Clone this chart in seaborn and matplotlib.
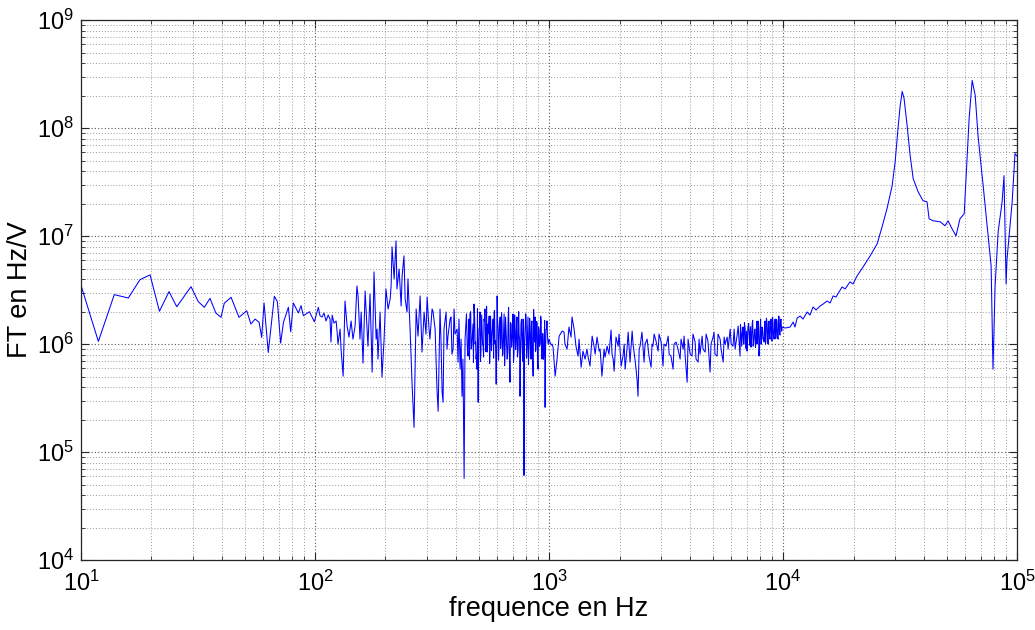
import numpy as np
import pandas as pd
import matplotlib
matplotlib.use("Agg")
import matplotlib.pyplot as plt
import seaborn as sns
from matplotlib.ticker import LogLocator

# ---- data (log10 of frequency in Hz, log10 of FT in Hz/V) ----
log_freq_low = [1.000, 1.074, 1.142, 1.202, 1.252, 1.295, 1.335, 1.376, 1.409, 1.470,
                1.501, 1.527, 1.551, 1.576, 1.598, 1.612, 1.641, 1.675, 1.708, 1.726,
                1.744, 1.761, 1.772, 1.782, 1.800, 1.826, 1.839, 1.853, 1.865, 1.886,
                1.896, 1.907, 1.929, 1.940, 1.950, 1.976, 1.997, 2.014, 2.021]
log_ft_low = [6.543, 6.025, 6.458, 6.427, 6.597, 6.641, 6.304, 6.486, 6.346, 6.532,
              6.393, 6.341, 6.424, 6.288, 6.248, 6.378, 6.434, 6.248, 6.309, 6.186,
              6.232, 6.201, 6.062, 6.381, 5.923, 6.443, 6.393, 6.009, 6.201, 6.341,
              6.114, 6.381, 6.288, 6.356, 6.263, 6.300, 6.207, 6.341, 6.263]

log_freq_mid1 = [2.030, 2.038, 2.047, 2.056, 2.064, 2.068, 2.073, 2.081, 2.090, 2.094,
                 2.098, 2.107, 2.111, 2.120, 2.128, 2.137, 2.145, 2.154, 2.162, 2.171,
                 2.179, 2.184, 2.192, 2.197, 2.205, 2.214, 2.222, 2.226, 2.235, 2.244,
                 2.252, 2.261, 2.265, 2.269, 2.278, 2.286, 2.295, 2.303, 2.312, 2.321,
                 2.325, 2.329, 2.338, 2.346, 2.350, 2.359, 2.368, 2.372, 2.380, 2.385,
                 2.393, 2.397, 2.406, 2.415, 2.423, 2.432, 2.440, 2.449, 2.457, 2.466,
                 2.474, 2.479, 2.487, 2.491, 2.500, 2.504, 2.513, 2.521, 2.526]
log_ft_mid1 = [6.251, 6.288, 6.214, 6.269, 6.232, 6.019, 6.269, 6.195, 6.214, 6.121,
               6.000, 6.139, 5.954, 5.703, 6.399, 6.167, 6.065, 6.214, 6.046, 6.167,
               6.539, 6.436, 6.046, 6.297, 5.824, 6.492, 6.139, 5.981, 6.464, 5.740,
               6.669, 6.046, 6.139, 5.861, 6.297, 5.694, 6.046, 6.511, 6.325, 6.418,
               6.539, 6.901, 6.604, 6.956, 6.511, 6.696, 6.353, 6.631, 6.817, 6.418,
               6.297, 6.604, 6.139, 5.610, 5.229, 6.325, 6.074, 6.446, 5.926, 6.297,
               6.093, 6.436, 6.139, 6.046, 6.325, 6.306, 6.139, 5.582, 5.378]

log_freq_mid2 = [2.534, 2.538, 2.543, 2.547, 2.551, 2.560, 2.564, 2.568, 2.577, 2.581,
                 2.585, 2.590, 2.594, 2.598, 2.607, 2.611, 2.615, 2.620, 2.624, 2.628,
                 2.632, 2.637, 2.641, 2.645, 2.650, 2.654, 2.658, 2.662, 2.667, 2.671,
                 2.675, 2.679, 2.684, 2.688, 2.692, 2.697, 2.701, 2.705, 2.709, 2.714,
                 2.718, 2.722, 2.726, 2.731, 2.735, 2.739, 2.744, 2.748, 2.752, 2.756,
                 2.761, 2.765, 2.769, 2.774, 2.778, 2.782, 2.786, 2.791, 2.795, 2.799,
                 2.803, 2.808, 2.812, 2.816, 2.821, 2.825, 2.829, 2.833, 2.838, 2.842,
                 2.846, 2.850, 2.855, 2.859, 2.863, 2.868, 2.872, 2.876, 2.880, 2.885,
                 2.889, 2.893, 2.897, 2.902, 2.906, 2.910, 2.915, 2.919, 2.923, 2.927,
                 2.932, 2.936, 2.940, 2.944, 2.949, 2.953, 2.957, 2.962, 2.966, 2.970,
                 2.974, 2.979, 2.983, 2.987, 2.991, 2.996]
log_ft_mid2 = [6.325, 6.046, 5.554, 5.461, 6.139, 6.297, 5.954, 6.074, 6.232, 6.251,
               5.907, 5.954, 6.325, 6.093, 6.139, 5.833, 6.232, 5.768, 6.046, 5.517,
               5.861, 4.756, 6.046, 6.204, 6.000, 5.889, 6.232, 6.279, 5.954, 6.046,
               6.186, 6.371, 6.000, 5.861, 5.768, 5.461, 6.139, 6.297, 5.954, 6.139,
               5.981, 6.232, 6.325, 6.000, 5.926, 6.186, 6.260, 5.954, 6.093, 6.074,
               6.232, 6.297, 6.000, 5.629, 6.446, 6.139, 6.000, 6.251, 6.046, 6.186,
               5.907, 6.279, 5.954, 6.139, 5.861, 6.232, 6.000, 5.647, 6.186, 6.046,
               6.279, 5.907, 6.139, 6.000, 6.251, 5.954, 6.093, 5.517, 6.186, 6.000,
               6.232, 4.784, 6.093, 6.232, 5.954, 6.251, 6.000, 6.158, 5.861, 6.214,
               5.703, 6.139, 6.251, 5.954, 6.186, 5.768, 6.139, 6.000, 6.232, 5.861,
               6.093, 5.954, 5.415, 6.139, 6.214, 6.000]

# extra strokes of the densest band between ~450 Hz and 1 kHz
log_freq_mid2b = [2.647, 2.652, 2.656, 2.660, 2.665, 2.669, 2.673, 2.677, 2.682, 2.686,
                  2.690, 2.694, 2.699, 2.703, 2.707, 2.712, 2.716, 2.720, 2.724, 2.729,
                  2.733, 2.737, 2.741, 2.746, 2.750, 2.754, 2.759, 2.763, 2.767, 2.771,
                  2.776, 2.780, 2.784, 2.788, 2.793, 2.797, 2.801, 2.806, 2.810, 2.814,
                  2.818, 2.823, 2.827, 2.831, 2.835, 2.840, 2.844, 2.848, 2.853, 2.857,
                  2.861, 2.865, 2.870, 2.874, 2.878, 2.882, 2.887, 2.891, 2.895, 2.900,
                  2.904, 2.908, 2.912, 2.917, 2.921, 2.925, 2.929, 2.934, 2.938, 2.942,
                  2.947, 2.951, 2.955, 2.959, 2.964, 2.968, 2.972, 2.976, 2.981, 2.985,
                  2.989, 2.994]
log_ft_mid2b = [6.28, 5.92, 6.18, 5.86, 6.30, 5.97, 6.12, 5.83, 6.24, 6.02,
                5.90, 6.33, 5.95, 6.16, 5.84, 6.27, 6.00, 5.88, 6.21, 5.93,
                6.35, 5.98, 6.10, 5.82, 6.26, 5.94, 6.19, 5.87, 6.31, 6.03,
                5.91, 6.22, 5.85, 6.17, 5.96, 6.29, 5.89, 6.13, 5.80, 6.25,
                6.01, 5.92, 6.34, 5.86, 6.20, 5.97, 6.11, 5.83, 6.27, 5.95,
                6.18, 5.88, 6.30, 6.04, 5.90, 6.23, 5.84, 6.15, 5.99, 6.28,
                5.87, 6.12, 5.81, 6.24, 5.96, 6.19, 5.89, 6.32, 6.02, 5.93,
                6.21, 5.85, 6.16, 5.98, 6.26, 5.90, 6.10, 5.86, 6.22, 5.95,
                6.14, 6.05]

log_freq_mid3 = [3.000, 3.004, 3.009, 3.013, 3.017, 3.026, 3.034, 3.043, 3.056, 3.064,
                 3.068, 3.077, 3.085, 3.094, 3.098, 3.107, 3.115, 3.124, 3.128, 3.137,
                 3.145, 3.154, 3.162, 3.167, 3.175, 3.184, 3.192, 3.197, 3.205, 3.214,
                 3.218, 3.226, 3.235, 3.239, 3.248, 3.256, 3.265, 3.269, 3.274, 3.278,
                 3.286, 3.295, 3.299, 3.308, 3.316, 3.321, 3.325, 3.333, 3.338, 3.346,
                 3.355, 3.359, 3.368, 3.376, 3.380, 3.385, 3.389, 3.397, 3.406, 3.410,
                 3.419, 3.427, 3.436, 3.440, 3.444, 3.449, 3.457, 3.466, 3.470, 3.479,
                 3.483, 3.487, 3.491, 3.500, 3.509, 3.513, 3.521, 3.530, 3.534, 3.543,
                 3.551]
log_ft_mid3 = [6.046, 6.019, 5.991, 6.000, 5.972, 5.703, 5.861, 6.074, 6.121, 6.111,
               6.000, 5.954, 6.158, 6.065, 6.251, 6.139, 5.981, 5.889, 6.046, 5.786,
               5.935, 5.861, 5.954, 5.879, 5.796, 6.074, 5.981, 5.907, 6.065, 5.935,
               5.954, 5.703, 5.954, 5.879, 5.981, 5.907, 6.130, 5.907, 5.861, 5.749,
               6.065, 5.981, 6.093, 5.796, 5.889, 6.000, 5.768, 5.954, 6.111, 5.833,
               6.121, 6.000, 5.842, 5.675, 5.517, 5.954, 5.981, 6.111, 5.833, 6.000,
               6.046, 5.889, 5.786, 6.000, 5.981, 6.093, 6.028, 5.935, 6.093, 6.019,
               5.907, 5.796, 6.000, 5.981, 6.074, 5.907, 5.889, 5.768, 6.000, 6.019,
               5.954]

log_freq_mid4 = [3.560, 3.564, 3.573, 3.577, 3.581, 3.590, 3.594, 3.603, 3.611, 3.615,
                 3.624, 3.628, 3.637, 3.641, 3.645, 3.654, 3.658, 3.667, 3.671, 3.679,
                 3.684, 3.688, 3.692, 3.701, 3.705, 3.709, 3.718, 3.722, 3.731, 3.735,
                 3.744, 3.748, 3.752, 3.761, 3.765, 3.774, 3.778, 3.786, 3.791, 3.795,
                 3.803, 3.808, 3.816, 3.821, 3.829, 3.833, 3.838, 3.846, 3.850, 3.859,
                 3.863, 3.868, 3.872, 3.880, 3.885, 3.889, 3.893, 3.897, 3.902, 3.906,
                 3.910, 3.915, 3.919, 3.923, 3.927, 3.932, 3.936, 3.940, 3.944, 3.949,
                 3.953, 3.957, 3.962, 3.966, 3.970, 3.974, 3.979, 3.983, 3.987, 3.991,
                 3.996]
log_ft_mid4 = [5.861, 6.046, 5.954, 6.074, 5.907, 5.647, 6.046, 5.907, 5.889, 6.093,
               6.019, 5.861, 5.833, 6.046, 5.907, 6.074, 5.954, 5.926, 6.093, 6.028,
               5.861, 5.740, 6.000, 6.065, 6.111, 5.907, 5.889, 6.093, 6.046, 5.954,
               5.833, 6.065, 6.000, 6.065, 5.954, 6.139, 6.000, 5.981, 6.139, 5.954,
               6.074, 6.167, 5.889, 6.093, 6.158, 6.000, 6.139, 5.935, 6.158, 6.111,
               5.972, 6.186, 5.981, 6.139, 6.046, 6.000, 6.214, 5.889, 6.139, 6.000,
               6.158, 6.046, 6.019, 6.214, 6.046, 6.186, 6.000, 6.214, 6.046, 6.232,
               6.028, 6.195, 6.046, 6.232, 6.065, 6.214, 6.046, 6.251, 6.084, 6.232,
               6.158]

# extra strokes of the dense band just below 10 kHz
log_freq_mid4b = [3.818, 3.823, 3.827, 3.831, 3.835, 3.840, 3.844, 3.848, 3.853, 3.857,
                  3.861, 3.865, 3.870, 3.874, 3.878, 3.882, 3.887, 3.891, 3.895, 3.900,
                  3.904, 3.908, 3.912, 3.917, 3.921, 3.925, 3.929, 3.934, 3.938, 3.942,
                  3.947, 3.951, 3.955, 3.959, 3.964, 3.968, 3.972, 3.976, 3.981, 3.985,
                  3.989, 3.994]
log_ft_mid4b = [6.18, 5.98, 6.14, 6.00, 6.20, 5.96, 6.12, 6.03, 6.19, 5.99,
                6.16, 6.04, 6.22, 6.00, 6.13, 5.97, 6.21, 6.05, 6.17, 6.01,
                6.23, 6.02, 6.15, 6.06, 6.20, 6.00, 6.24, 6.04, 6.18, 6.08,
                6.22, 6.03, 6.25, 6.07, 6.19, 6.05, 6.23, 6.06, 6.26, 6.09,
                6.21, 6.12]

log_freq_high = [4.009, 4.030, 4.043, 4.051, 4.060, 4.073, 4.085, 4.103, 4.115, 4.128,
                 4.141, 4.158, 4.171, 4.188, 4.201, 4.214, 4.226, 4.252, 4.265, 4.286,
                 4.299, 4.316, 4.342, 4.372, 4.402, 4.423, 4.444, 4.466, 4.479, 4.491,
                 4.500, 4.509, 4.517, 4.530, 4.543, 4.556, 4.577, 4.598, 4.615, 4.624,
                 4.641, 4.671, 4.692, 4.705, 4.722, 4.739, 4.756, 4.774, 4.786, 4.795,
                 4.808, 4.821, 4.833, 4.855, 4.876, 4.889, 4.897, 4.906, 4.919, 4.936,
                 4.944, 4.953, 4.957, 4.979, 4.991, 5.000]
log_ft_high = [6.149, 6.158, 6.204, 6.158, 6.241, 6.260, 6.232, 6.297, 6.269, 6.344,
               6.316, 6.353, 6.371, 6.399, 6.381, 6.446, 6.436, 6.529, 6.511, 6.576,
               6.557, 6.631, 6.715, 6.817, 6.929, 7.086, 7.253, 7.467, 7.690, 7.996,
               8.200, 8.340, 8.275, 8.024, 7.746, 7.532, 7.411, 7.328, 7.318, 7.161,
               7.142, 7.133, 7.096, 7.142, 7.068, 7.003, 7.161, 7.207, 7.718, 8.089,
               8.442, 8.303, 7.931, 7.467, 7.003, 6.724, 5.768, 6.539, 7.040, 7.318,
               7.560, 6.557, 6.789, 7.318, 7.764, 7.740]

x_label = "frequence en Hz"
y_label = "FT en Hz/V"

# ---- assemble ----
log_freq = (log_freq_low + log_freq_mid1 + log_freq_mid2 + log_freq_mid2b
            + log_freq_mid3 + log_freq_mid4 + log_freq_mid4b + log_freq_high)
log_ft = (log_ft_low + log_ft_mid1 + log_ft_mid2 + log_ft_mid2b
          + log_ft_mid3 + log_ft_mid4 + log_ft_mid4b + log_ft_high)
df = pd.DataFrame({"freq": 10 ** np.array(log_freq), "ft": 10 ** np.array(log_ft)})
df = df.sort_values("freq", kind="stable").reset_index(drop=True)

sns.set_style("white")
plt.rcParams["font.family"] = ["Liberation Sans", "DejaVu Sans"]
plt.rcParams["mathtext.fontset"] = "custom"
plt.rcParams["mathtext.rm"] = "Liberation Sans"
plt.rcParams["mathtext.it"] = "Liberation Sans:italic"
plt.rcParams["mathtext.bf"] = "Liberation Sans:bold"
for key in ["text.color", "axes.labelcolor", "xtick.color", "ytick.color"]:
    plt.rcParams[key] = "black"

fig = plt.figure(figsize=(10.35, 6.3), dpi=100)
ax = fig.add_axes([0.0783, 0.111, 0.9044, 0.857])

sns.lineplot(data=df, x="freq", y="ft", ax=ax, color="#0000ff",
             linewidth=0.75, estimator=None, sort=False)

ax.set_xscale("log")
ax.set_yscale("log")
ax.set_xlim(10, 1e5)
ax.set_ylim(1e4, 1e9)

ax.xaxis.set_major_locator(LogLocator(base=10, numticks=10))
ax.yaxis.set_major_locator(LogLocator(base=10, numticks=10))
ax.xaxis.set_minor_locator(LogLocator(base=10, subs=np.arange(2, 10), numticks=20))
ax.yaxis.set_minor_locator(LogLocator(base=10, subs=np.arange(2, 10), numticks=20))

ax.grid(True, which="major", linestyle=(0, (1, 2)), color="0.35", linewidth=0.8)
ax.grid(True, which="minor", linestyle=(0, (1, 2)), color="0.6", linewidth=0.7)
ax.set_axisbelow(True)

ax.tick_params(which="both", direction="in", top=True, right=True,
               bottom=True, left=True, color="0.15")
ax.tick_params(which="major", length=6, width=0.8, labelsize=17)
ax.tick_params(axis="x", which="major", pad=8)
ax.tick_params(axis="y", which="major", pad=5)
ax.tick_params(which="minor", length=3, width=0.6)
for side in ax.spines.values():
    side.set_color("0.15")
    side.set_linewidth(0.9)

ax.set_xlabel(x_label, fontsize=19.5, labelpad=0)
ax.set_ylabel(y_label, fontsize=19.5, labelpad=3)

fig.savefig("out.png", dpi=100, facecolor="white")
